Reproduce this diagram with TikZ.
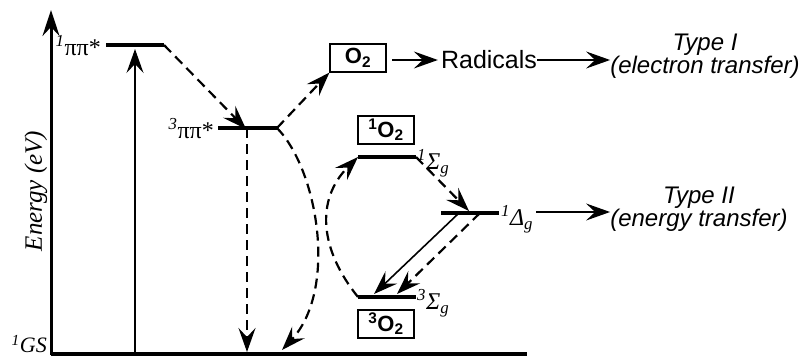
\documentclass[tikz,border=0pt]{standalone}
\usepackage{fontspec}
\setmainfont{Liberation Serif}
\setsansfont{Liberation Sans}
\usetikzlibrary{arrows.meta}
\tikzset{
  tip/.style={-{Stealth[length=24pt,width=17pt,inset=9pt]}},
  level/.style={line width=3.5pt},
  dsh/.style={line width=2.2pt, dash pattern=on 10pt off 6pt, tip},
  thinarrow/.style={line width=1.3pt, tip},
  box/.style={draw, line width=1.2pt, minimum width=56pt, minimum height=28pt, inner sep=0pt, font=\sffamily\bfseries\fontsize{22}{24}\selectfont},
  lbl/.style={inner sep=0pt, font=\fontsize{24}{26}\selectfont},
  sans/.style={inner sep=0pt, font=\sffamily\fontsize{25}{27}\selectfont},
  typ/.style={inner sep=0pt, align=center, font=\sffamily\itshape\fontsize{24}{22}\selectfont},
}
\begin{document}
\begin{tikzpicture}[x=1pt,y=-1pt]
\useasboundingbox (0,0) rectangle (801,356);
% axis
\coordinate (axb) at (51,355);
\coordinate (axt) at (51,10);
\draw[line width=3pt, -{Stealth[length=26pt,width=17pt,inset=9pt]}] (axb) -- (axt);
\coordinate (gsL) at (51,354);
\coordinate (gsR) at (527,354);
\draw[level] (gsL) -- (gsR);
\node[lbl, anchor=east, font=\fontsize{22}{24}\selectfont] (gs) at (47,344) {\textit{\textsuperscript{1}GS}};
\node[lbl, rotate=90, font=\itshape\fontsize{25}{26}\selectfont] (en) at (36,191) {Energy (eV)};
% levels
\coordinate (s1L) at (106,45); \coordinate (s1R) at (164,45);
\coordinate (t1L) at (218,128); \coordinate (t1R) at (277,128);
\coordinate (sgL) at (358,157); \coordinate (sgR) at (416,157);
\coordinate (dgL) at (441,213); \coordinate (dgR) at (499,213);
\coordinate (tgL) at (358,297); \coordinate (tgR) at (416,297);
\draw[level] (s1L) -- (s1R);
\draw[level] (t1L) -- (t1R);
\draw[level] (sgL) -- (sgR);
\draw[level] (dgL) -- (dgR);
\draw[level] (tgL) -- (tgR);
\node[lbl, anchor=east] (s1lab) at (101,46) {\textit{\textsuperscript{1}}ππ*};
\node[lbl, anchor=east] (t1lab) at (214,129) {\textit{\textsuperscript{3}}ππ*};
\node[lbl, anchor=west] (sglab) at (417,163) {\textit{\textsuperscript{1}Σ\textsubscript{g}}};
\node[lbl, anchor=west] (dglab) at (501,219) {\textit{\textsuperscript{1}Δ\textsubscript{g}}};
\node[lbl, anchor=west] (tglab) at (417,303) {\textit{\textsuperscript{3}Σ\textsubscript{g}}};
% boxes
\node[box] (o2) at (358,58) {O\textsubscript{2}};
\node[box] (so2) at (386,130) {\textsuperscript{1}O\textsubscript{2}};
\node[box] (to2) at (386,324) {\textsuperscript{3}O\textsubscript{2}};
\node[sans] (rad) at (489,60) {Radicals};
\node[typ] (ty1) at (705,56) {Type I\\(electron transfer)};
\node[typ] (ty2) at (699,209) {Type II\\(energy transfer)};
% excitation
\coordinate (exb) at (135,354); \coordinate (ext) at (135,49);
\draw[thinarrow] (exb) -- (ext);
% dashed transitions
\coordinate (isc) at (246,129);
\draw[dsh] (s1R) -- (isc);
\coordinate (t1m) at (247,128); \coordinate (gsm) at (247,352);
\draw[dsh] (t1m) -- (gsm);
\draw[dsh] (t1R) -- (o2.south west);
\draw[dsh] (t1R) .. controls (318,170) and (338,290) .. (282,350);
\draw[dsh] (tgL) .. controls (320,250) and (315,200) .. (sgL);
\coordinate (dgin) at (469,211);
\draw[dsh] (sgR) -- (dgin);
\coordinate (d1) at (459,213); \coordinate (d1e) at (374,294);
\coordinate (d2) at (480,213); \coordinate (d2e) at (397,294);
\draw[line width=1.6pt, tip] (d1) -- (d1e);
\draw[dsh] (d2) -- (d2e);
% right arrows
\coordinate (oa) at (392,60);
\draw[thinarrow] (oa) -- ([xshift=-3pt]rad.west);
\coordinate (ra) at (537,60);
\draw[thinarrow] (ra) -- (ty1.west |- ra);
\coordinate (ta) at (536,212);
\draw[thinarrow] (ta) -- (ty2.west |- ta);
\end{tikzpicture}
\end{document}
